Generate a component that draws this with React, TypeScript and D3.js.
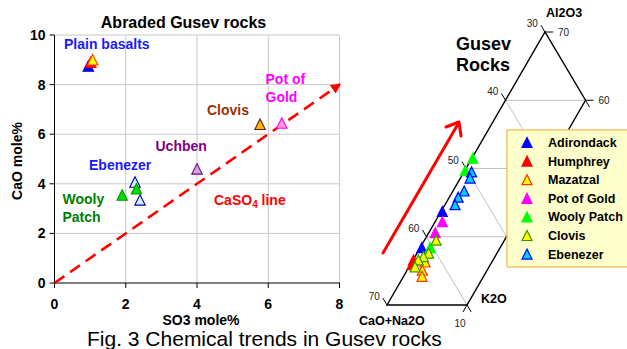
import React from 'react';
import * as d3 from 'd3';

// ---- Abraded Gusev rocks: SO3 vs CaO (mole%) ----
const abradedRocks = ['Adirondack', 'Humphrey', 'Mazatzal', 'Clovis', 'Pot of Gold', 'Uchben', 'Ebenezer', 'Ebenezer', 'Wooly Patch', 'Wooly Patch'];
const abradedSO3 = [0.95, 1.02, 1.07, 5.77, 6.38, 4.0, 2.26, 2.4, 1.9, 2.3];
const abradedCaO = [8.75, 8.9, 9.0, 6.4, 6.45, 4.6, 4.07, 3.35, 3.55, 3.8];
const so3Ticks = [0, 2, 4, 6, 8];
const caoTicks = [0, 2, 4, 6, 8, 10];
const caso4Line = [[0, 0], [8, 8]];

// ---- Ternary Al2O3 / CaO+Na2O / K2O (CaO+Na2O = 100 - Al2O3 - K2O) ----
const ternaryNames = ['Adirondack', 'Humphrey', 'Mazatzal', 'Pot of Gold', 'Wooly Patch', 'Clovis', 'Ebenezer'];
const adirondackAl = [43.7, 38.4];
const adirondackK = [0.15, 0.2];
const humphreyAl = [36.6, 35.9];
const humphreyK = [0.05, 0.2];
const mazatzalAl = [36.3, 35.1, 34.2];
const mazatzalK = [1.65, 1.9, 2.3];
const potOfGoldAl = [42.2, 40.6];
const potOfGoldK = [0.9, 0.8];
const woolyPatchAl = [51.5, 49.7, 38.4];
const woolyPatchK = [0.1, 0.05, 1.25];
const clovisAl = [39.5, 37.6, 37.1, 36.6, 35.6];
const clovisK = [1.45, 1.45, 1.05, 0.65, 0.75];
const ebenezerAl = [49.5, 48.6, 46.7, 45.8, 44.7];
const ebenezerK = [0.95, 1.2, 1.4, 1.1, 1.25];
const alGrid = [40, 50, 60];
const caGrid = [40, 50, 60];
const caTicks = [30, 40, 50, 60, 70];
const alTicks = [70, 60, 50, 40];
const alTickLabels = [70, 60];

const ternaryAl = [adirondackAl, humphreyAl, mazatzalAl, potOfGoldAl, woolyPatchAl, clovisAl, ebenezerAl];
const ternaryK = [adirondackK, humphreyK, mazatzalK, potOfGoldK, woolyPatchK, clovisK, ebenezerK];

const FONT = 'Arial, "Liberation Sans", sans-serif';

// marker styles
const leftStyle: Record<string, { fill: string; stroke: string }> = {
  Adirondack: { fill: '#0000ff', stroke: '#0000cc' },
  Humphrey: { fill: '#ff0000', stroke: '#ff0000' },
  Mazatzal: { fill: '#ffff00', stroke: '#ff3300' },
  Clovis: { fill: '#ffb800', stroke: '#662200' },
  'Pot of Gold': { fill: '#ff99cc', stroke: '#ff00ff' },
  Uchben: { fill: '#c8a8e0', stroke: '#800080' },
  Ebenezer: { fill: '#ccf2ff', stroke: '#0000aa' },
  'Wooly Patch': { fill: '#00dd00', stroke: '#009900' },
};
const ternStyle: Record<string, { fill: string; stroke: string }> = {
  Adirondack: { fill: '#0000ff', stroke: '#0000ff' },
  Humphrey: { fill: '#ff0000', stroke: '#ff0000' },
  Mazatzal: { fill: '#ffff00', stroke: '#ff3300' },
  'Pot of Gold': { fill: '#ff00ff', stroke: '#ff00ff' },
  'Wooly Patch': { fill: '#00ff00', stroke: '#00ff00' },
  Clovis: { fill: '#ffff00', stroke: '#339900' },
  Ebenezer: { fill: '#00ccff', stroke: '#0000ff' },
};

// triangle marker glyph (Excel style: width == height)
const tri = (s: number) => `M0,${-s / 2}L${s / 2},${s / 2}L${-s / 2},${s / 2}Z`;

const App = () => {
  // left chart scales
  const x = d3.scaleLinear().domain([0, 8]).range([54.5, 339.5]);
  const y = d3.scaleLinear().domain([0, 10]).range([283, 35]);
  const line = d3.line<number[]>().x(d => x(d[0])).y(d => y(d[1]));

  // ternary: affine skewed projection
  const alY = d3.scaleLinear().domain([30, 70]).range([305, 32]);
  const alShift = d3.scaleLinear().domain([30, 70]).range([0, 158]);
  const kX = d3.scaleLinear().domain([0, 10]).range([387, 467]);
  const tp = (al: number, k: number): [number, number] => [kX(k) + alShift(al), alY(al)];
  const tline = d3.line();

  // CaO tick direction (along a constant CaO line)
  const [c0x, c0y] = tp(60, 0);
  const [c1x, c1y] = tp(50, 10);
  const cl = Math.hypot(c1x - c0x, c1y - c0y);
  const cdx = ((c1x - c0x) / cl) * 8;
  const cdy = ((c1y - c0y) / cl) * 8;
  // K2O tick direction (along the K2O = 10 edge)
  const [k0x, k0y] = tp(60, 10);
  const [k1x, k1y] = tp(30, 10);
  const kl = Math.hypot(k1x - k0x, k1y - k0y);
  const kdx = ((k1x - k0x) / kl) * 8;
  const kdy = ((k1y - k0y) / kl) * 8;

  const bold = { fontFamily: FONT, fontWeight: 'bold' as const };

  return (
    <svg width={627} height={349} style={{ position: 'absolute', left: 0, top: 0, background: '#fff' }}>
      <defs>
        <marker id="arr" viewBox="0 0 10 10" refX="8" refY="5" markerWidth="4" markerHeight="4" orient="auto">
          <path d="M0,0L10,5L0,10Z" fill="#ff0000" />
        </marker>
      </defs>

      {/* ---------- left chart ---------- */}
      <g>
        {so3Ticks.slice(1).map(t => (
          <line key={'gx' + t} x1={x(t)} x2={x(t)} y1={y(0)} y2={y(10)} stroke="#c8c8c8" strokeWidth={1} />
        ))}
        {caoTicks.slice(1).map(t => (
          <line key={'gy' + t} x1={x(0)} x2={x(8)} y1={y(t)} y2={y(t)} stroke="#c8c8c8" strokeWidth={1} />
        ))}
        <line x1={x(0)} x2={x(0)} y1={y(0)} y2={y(10)} stroke="#000" strokeWidth={1} />
        <line x1={x(0)} x2={x(8)} y1={y(0)} y2={y(0)} stroke="#000" strokeWidth={1} />
        {caoTicks.map(t => (
          <g key={'ty' + t}>
            <line x1={x(0) - 5} x2={x(0)} y1={y(t)} y2={y(t)} stroke="#000" />
            <text x={x(0) - 9} y={y(t) + 5} textAnchor="end" fontSize={14} {...bold}>{t}</text>
          </g>
        ))}
        {so3Ticks.map(t => (
          <g key={'tx' + t}>
            <line x1={x(t)} x2={x(t)} y1={y(0)} y2={y(0) + 5} stroke="#000" />
            <text x={x(t)} y={y(0) + 26} textAnchor="middle" fontSize={14} {...bold}>{t}</text>
          </g>
        ))}
        <text x={183.5} y={28} textAnchor="middle" fontSize={16} {...bold}>Abraded Gusev rocks</text>
        <text x={201} y={325} textAnchor="middle" fontSize={14} {...bold}>SO3 mole%</text>
        <text transform="translate(22,161) rotate(-90)" textAnchor="middle" fontSize={14} {...bold}>CaO mole%</text>

        <path d={line(caso4Line) || ''} stroke="#ff0000" strokeWidth={2.6} strokeDasharray="12,7" fill="none" markerEnd="url(#arr)" />

        {abradedRocks.map((r, i) => (
          <path key={'lp' + i} d={tri(10.5)} transform={`translate(${x(abradedSO3[i])},${y(abradedCaO[i])})`}
            fill={leftStyle[r].fill} stroke={leftStyle[r].stroke} strokeWidth={1.1} />
        ))}

        <g fontSize={14} {...bold}>
          <text x={64} y={49} fill="#1a1aff">Plain basalts</text>
          <text x={265.5} y={83.5} fill="#ff00ff">Pot of</text>
          <text x={265.5} y={101.5} fill="#ff00ff">Gold</text>
          <text x={207} y={115} fill="#993300">Clovis</text>
          <text x={155.5} y={150.5} fill="#800080">Uchben</text>
          <text x={89} y={170} fill="#1a1aff">Ebenezer</text>
          <text x={62.5} y={204} fill="#008000">Wooly</text>
          <text x={62.5} y={221.5} fill="#008000">Patch</text>
          <text x={214} y={204.5} fill="#ff0000">CaSO<tspan fontSize={10} dy={3}>4</tspan><tspan dy={-3}> line</tspan></text>
        </g>
      </g>

      {/* ---------- ternary ---------- */}
      <g>
        <text x={456} y={50} fontSize={18} {...bold}>Gusev</text>
        <text x={456} y={71} fontSize={18} {...bold}>Rocks</text>

        {alGrid.map(a => (
          <path key={'ga' + a} d={tline([tp(a, 0), tp(a, 10)]) || ''} stroke="#c0c0c0" strokeWidth={1} fill="none" />
        ))}
        {caGrid.map(c => (
          <path key={'gc' + c} d={tline([tp(100 - c, 0), tp(90 - c, 10)]) || ''} stroke="#c0c0c0" strokeWidth={1} fill="none" />
        ))}
        <path d={(tline([tp(30, 0), tp(70, 0), tp(60, 10), tp(30, 10)]) || '') + 'Z'} stroke="#000" strokeWidth={1.4} fill="none" />

        {caTicks.map(c => {
          const [px, py] = tp(100 - c, 0);
          return (
            <g key={'tc' + c}>
              <line x1={px} y1={py} x2={px - cdx} y2={py - cdy} stroke="#000" />
              <text x={px - cdx - 3} y={py - cdy + 2} textAnchor="end" fontSize={10} fontFamily={FONT} fill="#222">{c}</text>
            </g>
          );
        })}
        {[30, 40, 50, 60].map(c => {
          const [px, py] = tp(90 - c, 10);
          return <line key={'tce' + c} x1={px} y1={py} x2={px + cdx} y2={py + cdy} stroke="#000" />;
        })}
        {alTicks.map(a => {
          const [px, py] = a === 70 ? tp(70, 0) : tp(a, 10);
          return (
            <g key={'ta' + a}>
              <line x1={px} y1={py} x2={px + 8} y2={py} stroke="#000" />
              {alTickLabels.includes(a) && (
                <text x={px + 13} y={py + 4} fontSize={10} fontFamily={FONT} fill="#222">{a}</text>
              )}
            </g>
          );
        })}
        <line x1={tp(30, 10)[0]} y1={tp(30, 10)[1]} x2={tp(30, 10)[0] + kdx} y2={tp(30, 10)[1] + kdy} stroke="#000" />
        <text x={tp(30, 10)[0] - 7} y={327} textAnchor="middle" fontSize={10} fontFamily={FONT} fill="#222">10</text>

        <text x={546} y={17} fontSize={12.5} {...bold}>Al2O3</text>
        <text x={481} y={303} fontSize={12.5} {...bold}>K2O</text>
        <text x={359} y={325} fontSize={12.5} {...bold}>CaO+Na2O</text>

        <line x1={383} y1={253} x2={458} y2={124} stroke="#ff0000" strokeWidth={3} strokeLinecap="round" />
        <path d="M446,127L459,122L461,136" stroke="#ff0000" strokeWidth={3} fill="none" strokeLinecap="round" strokeLinejoin="round" />

        {ternaryNames.map((n, si) => (
          <g key={'ts' + n}>
            {ternaryAl[si].map((a, i) => {
              const [px, py] = tp(a, ternaryK[si][i]);
              return <path key={i} d={tri(10)} transform={`translate(${px},${py})`}
                fill={ternStyle[n].fill} stroke={ternStyle[n].stroke} strokeWidth={1.2} />;
            })}
          </g>
        ))}

        {/* legend */}
        <rect x={507} y={130} width={122} height={137} fill="#ffffcc" stroke="#f7c46c" strokeWidth={1.5} />
        {ternaryNames.map((n, i) => {
          const ry = 142.5 + i * 18.6;
          return (
            <g key={'lg' + n}>
              <path d={tri(10)} transform={`translate(527,${ry})`} fill={ternStyle[n].fill} stroke={ternStyle[n].stroke} strokeWidth={1.2} />
              <text x={548} y={ry + 4.5} fontSize={12.5} {...bold}>{n}</text>
            </g>
          );
        })}
      </g>

      <text x={87} y={346} fontSize={21} fontFamily={FONT}>Fig. 3 Chemical trends in Gusev rocks</text>
    </svg>
  );
};

export default App;
